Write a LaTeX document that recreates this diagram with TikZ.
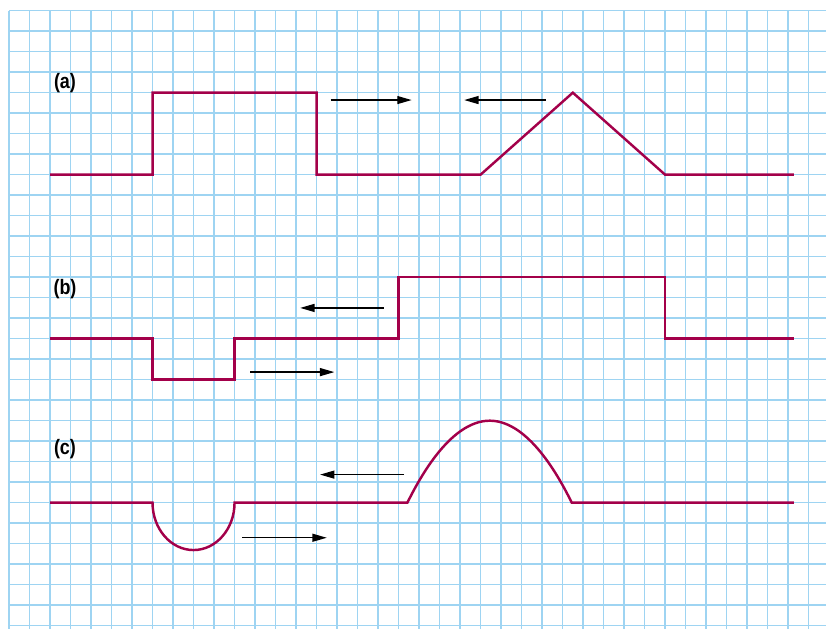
\documentclass[tikz,border=0pt]{standalone}
\usepackage{fontspec}
\setmainfont{Liberation Sans}
\usetikzlibrary{arrows.meta}
\definecolor{gridblue}{RGB}{158,212,242}
\definecolor{wave}{RGB}{163,0,74}
\tikzset{
  gridln/.style  ={draw=gridblue, line width=1.1pt},
  wavepath/.style={draw=wave, line width=1.7pt, line join=miter},
  dirarr/.style  ={-{Triangle[length=10pt,width=5.5pt]}, line width=1pt},
  tag/.style     ={font=\bfseries\fontsize{14.5}{14.5}\selectfont, xscale=0.86, inner sep=0pt},
}

\begin{document}
\begin{tikzpicture}[x=0.5cm,y=-0.5cm]
  \useasboundingbox (-0.44,-0.52) rectangle (39.85,30.14);

  % graph paper
  \foreach \i in {0,...,39}
    \draw[gridln] (\i,0) -- (\i,30.14);
  \foreach \j in {0,...,30}
    \draw[gridln] (0,\j) -- (39.85,\j);

  % labels
  \node[tag] (la) at (2.73,3.52)  {(a)};
  \node[tag] (lb) at (2.73,13.59) {(b)};
  \node[tag] (lc) at (2.73,21.38) {(c)};

  % (a) square and triangle pulses
  \draw[wavepath] (2,8) -- (7,8) -- (7,4) -- (15,4) -- (15,8) -- (23,8)
    -- (27.5,4) -- (32,8) -- (38.28,8);
  \coordinate (a1s) at (15.69,4.36); \coordinate (a1e) at (19.64,4.36);
  \coordinate (a2s) at (26.18,4.36); \coordinate (a2e) at (22.2,4.36);
  \draw[dirarr] (a1s) -- (a1e);
  \draw[dirarr] (a2s) -- (a2e);

  % (b) negative and positive square pulses
  \draw[wavepath] (2,16) -- (7,16) -- (7,18) -- (11,18) -- (11,16) -- (19,16)
    -- (19,13) -- (32,13) -- (32,16) -- (38.28,16);
  \coordinate (b1s) at (18.29,14.5);  \coordinate (b1e) at (14.2,14.5);
  \coordinate (b2s) at (11.76,17.63); \coordinate (b2e) at (15.87,17.63);
  \draw[dirarr] (b1s) -- (b1e);
  \draw[dirarr] (b2s) -- (b2e);

  % (c) rounded pulses
  \draw[wavepath] (2,24) -- (7,24)
    arc[start angle=180, end angle=0, x radius=2, y radius=2.31]
    -- (19.43,24) parabola bend (23.45,20) (27.45,24) -- (38.28,24);
  \coordinate (c1s) at (19.27,22.63); \coordinate (c1e) at (15.17,22.63);
  \coordinate (c2s) at (11.38,25.71); \coordinate (c2e) at (15.5,25.71);
  \draw[dirarr] (c1s) -- (c1e);
  \draw[dirarr] (c2s) -- (c2e);
\end{tikzpicture}
\end{document}
